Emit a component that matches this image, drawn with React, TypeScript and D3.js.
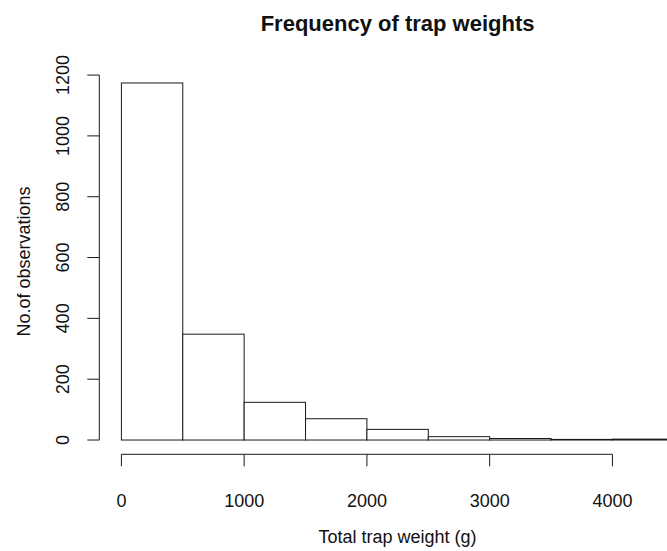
import React from "react";
import * as d3 from "d3";

const breaks = [0, 500, 1000, 1500, 2000, 2500, 3000, 3500, 4000, 4500];
const counts = [1174, 348, 124, 70, 35, 11, 5, 2, 3];
const xTicks = [0, 1000, 2000, 3000, 4000];
const yTicks = [0, 200, 400, 600, 800, 1000, 1200];
const title = "Frequency of trap weights";
const xLabel = "Total trap weight (g)";
const yLabel = "No.of observations";

const W = 667;
const H = 551;
const plotLeft = 99.3;
const plotRight = 695.9;
const plotTop = 68.7;
const plotBottom = 454.3;
const font = "'Liberation Sans', Arial, Helvetica, sans-serif";

export default function App() {
  const xMin = breaks[0];
  const xMax = breaks[breaks.length - 1];
  const yMax = d3.max(counts) as number;
  const xPad = (xMax - xMin) * 0.04;
  const yPad = yMax * 0.04;
  const x = d3.scaleLinear().domain([xMin - xPad, xMax + xPad]).range([plotLeft, plotRight]);
  const y = d3.scaleLinear().domain([-yPad, yMax + yPad]).range([plotBottom, plotTop]);
  const stroke = "#1a1a1a";
  const tickLen = 12;

  return (
    <svg
      width={W}
      height={H}
      style={{ position: "absolute", left: 0, top: 0, background: "#fff" }}
      fontFamily={font}
    >
      <rect x={0} y={0} width={W} height={H} fill="#fff" />
      {counts.map((c, i) => {
        const x0 = x(breaks[i]);
        const x1 = x(breaks[i + 1]);
        const y0 = y(0);
        const y1 = y(c);
        return (
          <rect
            key={i}
            x={x0}
            y={y1}
            width={x1 - x0}
            height={y0 - y1}
            fill="#fff"
            stroke={stroke}
            strokeWidth={1}
          />
        );
      })}
      {/* x axis */}
      <line x1={x(xTicks[0])} x2={x(xTicks[xTicks.length - 1])} y1={plotBottom} y2={plotBottom} stroke={stroke} />
      {xTicks.map((t) => (
        <g key={t}>
          <line x1={x(t)} x2={x(t)} y1={plotBottom} y2={plotBottom + tickLen} stroke={stroke} />
          <text x={x(t)} y={507} textAnchor="middle" fontSize={18} fill="#111">
            {t}
          </text>
        </g>
      ))}
      {/* y axis */}
      <line x1={plotLeft} x2={plotLeft} y1={y(yTicks[0])} y2={y(yTicks[yTicks.length - 1])} stroke={stroke} />
      {yTicks.map((t) => (
        <g key={t}>
          <line x1={plotLeft} x2={plotLeft - tickLen} y1={y(t)} y2={y(t)} stroke={stroke} />
          <text
            transform={`translate(${69},${y(t)}) rotate(-90)`}
            textAnchor="middle"
            fontSize={18}
            fill="#111"
          >
            {t}
          </text>
        </g>
      ))}
      <text x={(plotLeft + plotRight) / 2} y={31} textAnchor="middle" fontSize={22} fontWeight="bold" fill="#111">
        {title}
      </text>
      <text x={(plotLeft + plotRight) / 2} y={543} textAnchor="middle" fontSize={18} fill="#111">
        {xLabel}
      </text>
      <text
        transform={`translate(${30},${(plotTop + plotBottom) / 2}) rotate(-90)`}
        textAnchor="middle"
        fontSize={18}
        fill="#111"
      >
        {yLabel}
      </text>
    </svg>
  );
}
